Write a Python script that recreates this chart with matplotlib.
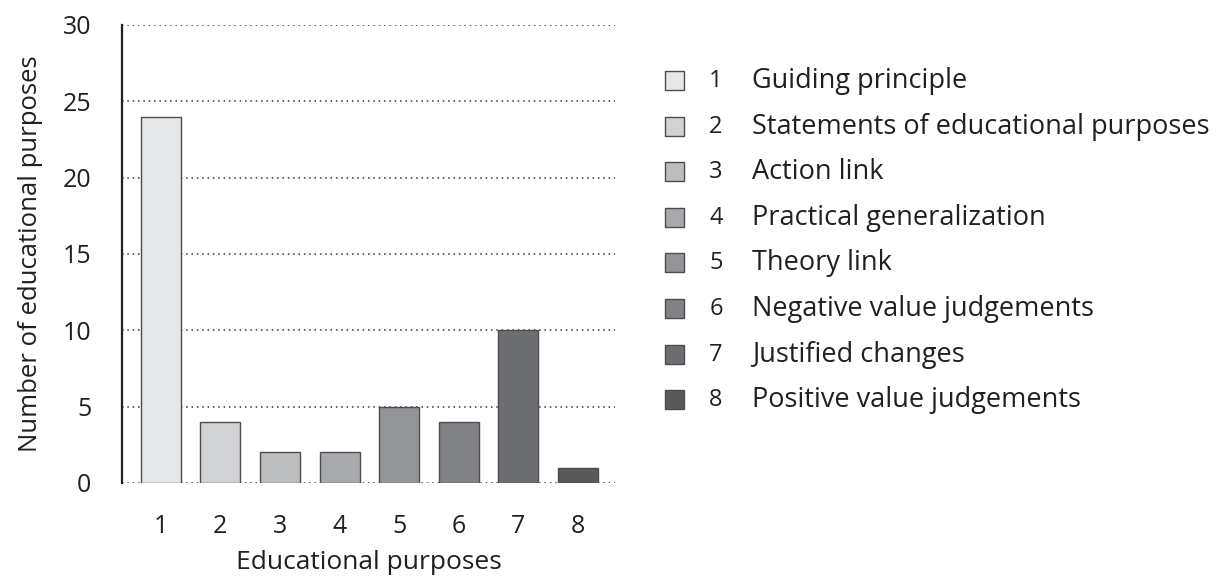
import numpy as np
import matplotlib.pyplot as plt
from matplotlib.patches import Rectangle

plt.rcParams['font.family'] = ['Open Sans', 'DejaVu Sans']

# data
categories = [1, 2, 3, 4, 5, 6, 7, 8]
counts = [24, 4, 2, 2, 5, 4, 10, 1]
labels = ['Guiding principle', 'Statements of educational purposes', 'Action link',
          'Practical generalization', 'Theory link', 'Negative value judgements',
          'Justified changes', 'Positive value judgements']
colors = ['#e6e7e8', '#d1d2d4', '#bcbec0', '#a7a9ac',
          '#939598', '#808285', '#6d6e71', '#58595b']
yticks = [0, 5, 10, 15, 20, 25, 30]


def main():
    fig = plt.figure(figsize=(12.16, 5.77), dpi=100)
    ax = fig.add_axes([0.1003, 0.163, 0.4055, 0.7937])

    ax.bar(categories, counts, width=0.67, color=colors, edgecolor='#4d4d4f',
           linewidth=1.0, zorder=3)

    ax.set_xlim(0.35, 8.62)
    ax.set_ylim(0, 30)
    ax.set_yticks(yticks)
    ax.set_xticks(categories)
    ax.tick_params(axis='both', length=0, labelsize=18, colors='#231f20')
    ax.tick_params(axis='y', pad=22)
    ax.tick_params(axis='x', pad=22)
    ax.yaxis.grid(True, linestyle=(0, (1, 2.5)), color='#333333', linewidth=1.1,
                  zorder=0)
    ax.set_axisbelow(True)
    for s in ['top', 'right', 'bottom']:
        ax.spines[s].set_visible(False)
    ax.spines['left'].set_linewidth(1.6)
    ax.spines['left'].set_color('#231f20')

    ax.set_xlabel('Educational purposes', fontsize=19, color='#231f20', labelpad=8)
    ax.set_ylabel('Number of educational purposes', fontsize=18.5, color='#231f20',
                  labelpad=14)

    # legend drawn by hand: square, number, label
    W, H = 1216, 577
    row0, step = 81, 45.6
    for i, (n, lab, c) in enumerate(zip(categories, labels, colors)):
        yc = row0 + i * step
        fig.patches.append(Rectangle((665 / W, 1 - (yc + 9) / H), 19 / W, 19 / H,
                                     transform=fig.transFigure, facecolor=c,
                                     edgecolor='#4d4d4f', linewidth=1.0))
        fig.text(716 / W, 1 - yc / H, str(n), ha='center', va='center',
                 fontsize=17, color='#231f20')
        fig.text(752 / W, 1 - yc / H, lab, ha='left', va='center',
                 fontsize=19.5, color='#231f20')

    fig.savefig('out.png', dpi=100)
    plt.close(fig)


main()
